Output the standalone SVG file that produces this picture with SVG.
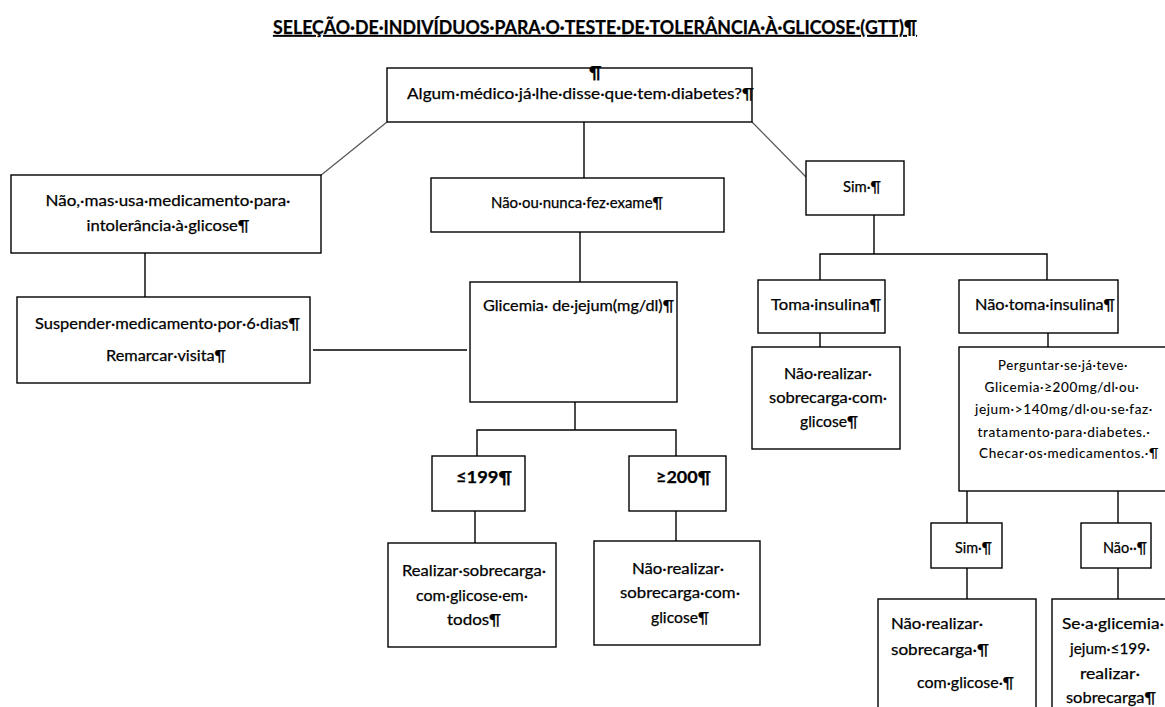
<svg xmlns="http://www.w3.org/2000/svg" width="1165" height="707" viewBox="0 0 1165 707">
<style>
.box{fill:#fff;stroke:#000;stroke-width:1.4}
.ln{stroke:#000;stroke-width:1.4;fill:none}
.dg{stroke:#555;stroke-width:1.2;fill:none}
text{font-family:Lato,"Open Sans","Liberation Sans",sans-serif;font-size:15.5px;fill:#000;stroke:#000;stroke-width:0.25}
.c{text-anchor:middle}
.b{font-weight:bold;font-size:17px}
.t{font-weight:bold;font-size:18px;text-decoration:underline}
.p{font-size:13.5px;letter-spacing:0.6px;stroke-width:0.1}
</style>
<rect width="1165" height="707" fill="#fff"/>
<text class="t" x="273" y="34" textLength="644" lengthAdjust="spacingAndGlyphs">SELEÇÃO·DE·INDIVÍDUOS·PARA·O·TESTE·DE·TOLERÂNCIA·À·GLICOSE·(GTT)¶</text>
<g id="connectors">
<line class="dg" x1="387" y1="122" x2="320" y2="176"/>
<line class="ln" x1="584" y1="122" x2="584" y2="178"/>
<line class="dg" x1="752" y1="122" x2="806" y2="177"/>
<line class="ln" x1="145" y1="253" x2="145" y2="297"/>
<line class="ln" x1="313" y1="350" x2="467" y2="350"/>
<line class="ln" x1="580" y1="232" x2="580" y2="282"/>
<polyline class="ln" points="477,456 477,430 676,430 676,456"/>
<line class="ln" x1="575" y1="402" x2="575" y2="430"/>
<line class="ln" x1="475" y1="511" x2="475" y2="543"/>
<line class="ln" x1="676" y1="511" x2="676" y2="541"/>
<line class="ln" x1="874" y1="215" x2="874" y2="254"/>
<polyline class="ln" points="820,280 820,254 1047,254 1047,280"/>
<line class="ln" x1="820" y1="333" x2="820" y2="347"/>
<line class="ln" x1="1048" y1="333" x2="1048" y2="347"/>
<line class="ln" x1="967" y1="491" x2="967" y2="523"/>
<line class="ln" x1="1118" y1="491" x2="1118" y2="523"/>
<line class="ln" x1="967" y1="568" x2="967" y2="599"/>
<line class="ln" x1="1118" y1="568" x2="1118" y2="599"/>
</g>
<g id="n-root">
<rect class="box" x="387" y="68" width="365" height="54"/>
<text x="589" y="78" class="b" font-size="13">¶</text>
<text x="407" y="99" textLength="347" lengthAdjust="spacingAndGlyphs">Algum·médico·já·lhe·disse·que·tem·diabetes?¶</text>
</g>
<g id="n-nao-mas">
<rect class="box" x="11" y="175" width="310" height="78"/>
<text class="c" x="168" y="206" textLength="245" lengthAdjust="spacingAndGlyphs">Não,·mas·usa·medicamento·para·</text>
<text class="c" x="168" y="231" textLength="163" lengthAdjust="spacingAndGlyphs">intolerância·à·glicose¶</text>
</g>
<g id="n-suspender">
<rect class="box" x="17" y="297" width="293" height="86"/>
<text x="35" y="329" textLength="265" lengthAdjust="spacingAndGlyphs">Suspender·medicamento·por·6·dias¶</text>
<text class="c" x="166" y="361" textLength="120" lengthAdjust="spacingAndGlyphs">Remarcar·visita¶</text>
</g>
<g id="n-nao-nunca">
<rect class="box" x="431" y="178" width="293" height="54"/>
<text x="491" y="208" textLength="172" lengthAdjust="spacingAndGlyphs">Não·ou·nunca·fez·exame¶</text>
</g>
<g id="n-glicemia">
<rect class="box" x="470" y="282" width="207" height="120"/>
<text x="483" y="311" textLength="191" lengthAdjust="spacingAndGlyphs">Glicemia· de·jejum(mg/dl)¶</text>
</g>
<g id="n-le199">
<rect class="box" x="432" y="456" width="93" height="55"/>
<text class="b" x="456" y="483" textLength="56" lengthAdjust="spacingAndGlyphs">≤199¶</text>
</g>
<g id="n-ge200">
<rect class="box" x="629" y="456" width="97" height="55"/>
<text class="b" x="656" y="483" textLength="55" lengthAdjust="spacingAndGlyphs">≥200¶</text>
</g>
<g id="n-realizar">
<rect class="box" x="388" y="543" width="168" height="104"/>
<text class="c" x="474" y="576" textLength="144" lengthAdjust="spacingAndGlyphs">Realizar·sobrecarga·</text>
<text class="c" x="472" y="601" textLength="112" lengthAdjust="spacingAndGlyphs">com·glicose·em·</text>
<text class="c" x="474" y="625" textLength="54" lengthAdjust="spacingAndGlyphs">todos¶</text>
</g>
<g id="n-nao-realizar-1">
<rect class="box" x="594" y="541" width="166" height="104"/>
<text class="c" x="678" y="574" textLength="92" lengthAdjust="spacingAndGlyphs">Não·realizar·</text>
<text class="c" x="680" y="598" textLength="120" lengthAdjust="spacingAndGlyphs">sobrecarga·com·</text>
<text class="c" x="680" y="623" textLength="58" lengthAdjust="spacingAndGlyphs">glicose¶</text>
</g>
<g id="n-sim">
<rect class="box" x="806" y="161" width="98" height="54"/>
<text x="843" y="192" textLength="38" lengthAdjust="spacingAndGlyphs">Sim·¶</text>
</g>
<g id="n-toma">
<rect class="box" x="758" y="280" width="127" height="53"/>
<text x="771" y="310" textLength="110" lengthAdjust="spacingAndGlyphs">Toma·insulina¶</text>
</g>
<g id="n-nao-toma">
<rect class="box" x="959" y="280" width="159" height="53"/>
<text x="975" y="310" textLength="140" lengthAdjust="spacingAndGlyphs">Não·toma·insulina¶</text>
</g>
<g id="n-nao-realizar-2">
<rect class="box" x="752" y="347" width="148" height="102"/>
<text class="c" x="828" y="379" textLength="88" lengthAdjust="spacingAndGlyphs">Não·realizar·</text>
<text class="c" x="828" y="403" textLength="118" lengthAdjust="spacingAndGlyphs">sobrecarga·com·</text>
<text class="c" x="829" y="427" textLength="58" lengthAdjust="spacingAndGlyphs">glicose¶</text>
</g>
<g id="n-perguntar">
<rect class="box" x="959" y="347" width="210" height="144"/>
<text class="c p" x="1063" y="370" textLength="130" lengthAdjust="spacingAndGlyphs">Perguntar·se·já·teve·</text>
<text class="c p" x="1062" y="392" textLength="155" lengthAdjust="spacingAndGlyphs">Glicemia·≥200mg/dl·ou·</text>
<text class="c p" x="1064" y="414" textLength="178" lengthAdjust="spacingAndGlyphs">jejum·&gt;140mg/dl·ou·se·faz·</text>
<text class="c p" x="1064" y="437" textLength="173" lengthAdjust="spacingAndGlyphs">tratamento·para·diabetes.·</text>
<text class="c p" x="1069" y="458" textLength="180" lengthAdjust="spacingAndGlyphs">Checar·os·medicamentos.·¶</text>
</g>
<g id="n-sim-2">
<rect class="box" x="931" y="523" width="71" height="45"/>
<text x="955" y="553" textLength="37" lengthAdjust="spacingAndGlyphs">Sim·¶</text>
</g>
<g id="n-nao-2">
<rect class="box" x="1081" y="523" width="70" height="45"/>
<text x="1103" y="553" textLength="44" lengthAdjust="spacingAndGlyphs">Não··¶</text>
</g>
<g id="n-nao-realizar-3">
<rect class="box" x="878" y="599" width="158" height="120"/>
<text x="891" y="629" textLength="92" lengthAdjust="spacingAndGlyphs">Não·realizar·</text>
<text x="891" y="655" textLength="98" lengthAdjust="spacingAndGlyphs">sobrecarga·¶</text>
<text x="917" y="688" textLength="97" lengthAdjust="spacingAndGlyphs">com·glicose·¶</text>
</g>
<g id="n-se-glicemia">
<rect class="box" x="1052" y="599" width="120" height="120"/>
<text class="c" x="1113" y="629" textLength="102" lengthAdjust="spacingAndGlyphs">Se·a·glicemia·</text>
<text class="c" x="1110" y="654" textLength="80" lengthAdjust="spacingAndGlyphs">jejum·≤199·</text>
<text class="c" x="1110" y="679" textLength="60" lengthAdjust="spacingAndGlyphs">realizar·</text>
<text class="c" x="1111" y="703" textLength="90" lengthAdjust="spacingAndGlyphs">sobrecarga¶</text>
</g>
</svg>
